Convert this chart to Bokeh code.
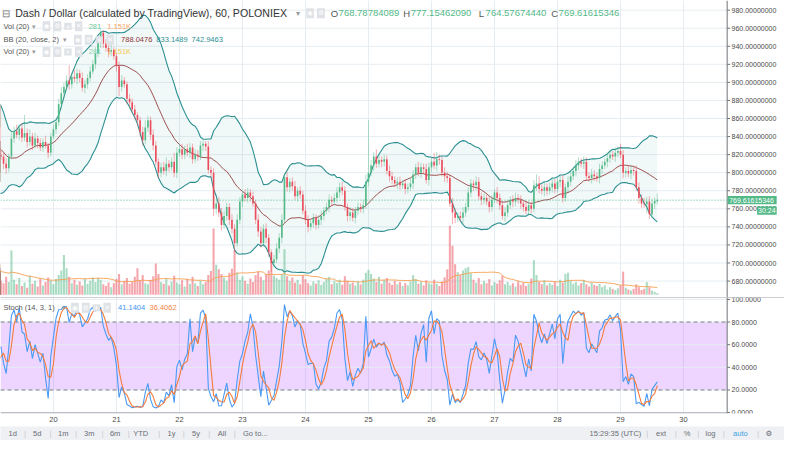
import numpy as np
import pandas as pd
from bokeh.plotting import figure
from bokeh.layouts import column
from bokeh.models import (Range1d, FixedTicker, BoxAnnotation, Span, Label, ColumnDataSource)
from bokeh.core.properties import value
from bokeh.embed import file_html
from bokeh.resources import INLINE

# ---------------- data (hourly candles, hours counted from 19th 00:00 UTC) ----------------
first_hour = -16
first_open = 850.0

warmup_closes = [860, 870, 875, 865, 850, 845, 835, 820, 800, 790,
                 795, 810, 805, 800, 815, 830, 835, 825, 810, 820]
visible_closes = [
    818, 810, 805, 818, 838, 846, 842, 849, 839, 844,
    834, 840, 830, 838, 833, 828, 834, 830, 822, 840,
    848, 856, 876, 888, 895, 902, 898, 906, 904, 910,
    905, 894, 898, 905, 912, 920, 932, 944, 955, 943,
    938, 934, 936, 929, 918, 895, 902, 898, 882, 878,
    870, 864, 858, 845, 836, 850, 858, 842, 830, 812,
    800, 806, 802, 810, 806, 812, 800, 822, 826, 820,
    826, 822, 828, 815, 820, 818, 830, 832, 829, 803,
    800, 760, 766, 756, 742, 752, 762, 748, 738, 722,
    748, 768, 776, 772, 778, 774, 766, 748, 735, 722,
    738, 728, 712, 700, 704, 716, 728, 748, 795, 784,
    790, 785, 774, 780, 776, 758, 748, 740, 744, 750,
    742, 748, 752, 758, 762, 770, 768, 772, 778, 784,
    780, 762, 752, 756, 750, 758, 762, 760, 764, 790,
    800, 808, 818, 810, 814, 812, 815, 802, 796, 792,
    788, 790, 786, 788, 782, 784, 788, 798, 806, 800,
    806, 804, 792, 806, 812, 808, 815, 814, 800, 796,
    794, 766, 756, 750, 752, 750, 756, 762, 778, 788,
    786, 790, 774, 770, 772, 768, 762, 770, 778, 772,
    764, 752, 756, 764, 770, 768, 772, 770, 766, 762,
    758, 764, 760, 786, 788, 782, 780, 784, 780, 784,
    788, 782, 790, 792, 772, 784, 790, 796, 802, 808,
    812, 810, 812, 796, 794, 798, 796, 794, 804, 808,
    812, 816, 820, 818, 822, 824, 820, 800, 802, 799,
    803, 802, 784, 772, 766, 765, 768, 754, 766, 768.78784089,
    769.61615346]

wick_up = [4, 5, 3, 4, 3, 6, 2, 3, 4, 5, 6, 3, 4, 5, 4, 3, 6, 4, 5, 4,
           5, 4, 6, 3, 8, 5, 7, 4, 6, 20,
           5, 8, 4, 6, 3, 5, 4, 7, 3, 4,
           5, 4, 6, 7, 5, 6, 17, 4, 8, 5,
           4, 6, 5, 4, 6, 5, 7, 6, 5, 3,
           5, 4, 6, 3, 4, 5, 6, 4, 3, 5,
           4, 5, 3, 4, 6, 8, 5, 4, 6, 5,
           4, 5, 6, 7, 4, 5, 10, 6, 5, 6,
           4, 6, 5, 4, 6, 5, 5, 4, 3, 6,
           4, 5, 6, 7, 5, 6, 5, 4, 6, 5,
           6, 5, 4, 6, 5, 4, 5, 4, 6, 5,
           5, 6, 4, 3, 5, 6, 5, 6, 5, 6,
           4, 5, 6, 4, 5, 4, 6, 5, 4, 5,
           4, 5, 6, 4, 5, 6, 4, 5, 6, 5,
           6, 5, 4, 6, 5, 4, 5, 4, 6, 8,
           58, 6, 5, 8, 6, 4, 5, 4, 6, 5,
           4, 5, 6, 4, 5, 4, 6, 5, 4, 6,
           5, 4, 6, 5, 4, 10, 8, 5, 4, 6,
           5, 4, 6, 5, 4, 5, 6, 5, 6, 5,
           4, 6, 5, 4, 5, 4, 6, 5, 4, 6,
           5, 4, 6, 5, 4, 5, 6, 4, 5, 4,
           6, 5, 4, 6, 10, 8, 5, 6, 4, 5,
           6, 5, 4, 6, 5, 4, 6, 5, 4, 6,
           5, 4, 6, 5, 4, 6, 5, 4, 6, 5,
           4, 6, 5, 4, 6, 5, 8, 5, 4, 6,
           5, 4, 6, 5, 4, 6, 5, 6, 5, 4,
           7.53845744]

wick_down = [3, 4, 5, 3, 4, 2, 5, 4, 6, 4, 3, 5, 4, 3, 2, 4, 3, 5, 4, 3,
             4, 6, 6, 4, 3, 5, 4, 6, 5, 4,
             6, 4, 5, 3, 6, 4, 5, 3, 6, 4,
             3, 5, 4, 6, 5, 4, 6, 5, 4, 6,
             5, 4, 6, 5, 4, 3, 5, 4, 6, 5,
             4, 6, 5, 4, 6, 10, 5, 4, 6, 5,
             4, 5, 6, 5, 6, 4, 5, 6, 5, 4,
             6, 5, 4, 6, 5, 4, 5, 6, 4, 5,
             5, 4, 6, 5, 4, 5, 4, 6, 5, 4,
             5, 8, 6, 5, 6, 4, 5, 6, 5, 10,
             4, 5, 6, 4, 5, 6, 4, 5, 6, 5,
             4, 6, 5, 10, 5, 4, 5, 6, 4, 5,
             6, 5, 4, 6, 5, 4, 5, 6, 4, 5,
             5, 4, 6, 5, 4, 6, 5, 4, 5, 6,
             5, 4, 6, 5, 4, 6, 5, 4, 5, 4,
             5, 4, 6, 5, 4, 6, 5, 4, 6, 5,
             4, 6, 5, 4, 6, 5, 4, 6, 5, 4,
             6, 5, 4, 6, 5, 4, 6, 5, 4, 6,
             5, 4, 13, 6, 5, 4, 6, 5, 4, 5,
             6, 5, 4, 6, 5, 4, 6, 5, 4, 6,
             5, 4, 6, 5, 4, 6, 5, 4, 6, 5,
             4, 6, 5, 4, 6, 5, 4, 6, 5, 4,
             6, 5, 4, 6, 5, 4, 6, 5, 4, 6,
             5, 4, 6, 5, 4, 6, 5, 4, 6, 5,
             4, 6, 5, 4, 6, 5, 4, 6, 5, 4,
             6, 5, 4, 6, 5, 4, 10, 5, 4, 6,
             4.20941649]

volumes_k = [4.2, 3.8, 5.1, 4.5, 3.6, 4.0, 3.2, 4.8, 5.5, 3.9,
             4.3, 3.5, 4.1, 3.8, 4.6, 3.3, 4.0, 3.7, 4.4, 3.9,
             2.4, 2.0, 3.1, 2.2, 7.7, 2.6, 1.8, 2.9, 1.5, 2.1,
             1.2, 3.3, 1.9, 2.4, 1.4, 2.8, 1.6, 2.2, 3.0, 2.5,
             1.8, 2.7, 3.4, 4.2, 6.9, 4.6, 3.1, 2.0, 2.6, 1.7,
             2.3, 1.6, 2.8, 1.9, 2.4, 3.0, 2.2, 2.9, 2.6, 1.8,
             1.5, 2.1, 1.3, 2.0, 2.7, 3.6, 1.8, 2.4, 2.9, 1.9,
             2.2, 3.1, 4.6, 2.5, 3.4, 2.0, 1.8, 2.6, 3.2, 5.4,
             3.6, 2.2, 1.9, 2.8, 1.6, 2.3, 3.3, 2.1, 1.8, 2.5,
             1.4, 2.7, 1.9, 3.1, 2.0, 1.5, 2.4, 1.8, 2.2, 3.4,
             4.1, 11.5, 5.2, 4.4, 3.6, 3.0, 2.4, 3.8, 4.5, 7.7,
             3.8, 2.6, 3.2, 2.4, 1.9, 2.8, 2.2, 3.4, 4.0, 3.1,
             2.5, 3.6, 4.2, 5.8, 3.3, 2.9, 2.6, 3.5, 7.9, 3.2,
             2.4, 3.0, 2.1, 2.6, 1.8, 3.4, 2.7, 2.0, 1.6, 2.3,
             1.9, 2.5, 1.7, 2.2, 2.8, 3.1, 1.8, 2.4, 2.0, 2.6,
             1.7, 3.2, 2.4, 1.9, 2.1, 1.6, 2.3, 1.8, 2.6, 3.8,
             4.3, 3.6, 2.8, 2.2, 3.1, 1.9, 2.6, 2.9, 2.1, 1.7,
             2.4, 1.8, 2.2, 1.5, 2.0, 1.6, 2.3, 3.4, 2.7, 1.9,
             2.2, 1.6, 2.5, 2.0, 1.8, 2.6, 1.9, 1.5, 2.3, 3.0,
             4.4, 12.0, 8.5, 5.3, 3.9, 3.4, 4.2, 4.6, 4.8, 3.7,
             2.6, 2.1, 2.9, 1.8, 2.4, 2.0, 2.7, 1.6, 2.2, 1.9,
             2.5, 3.3, 1.8, 2.2, 1.6, 2.0, 1.4, 2.3, 1.7, 2.1,
             1.5, 1.9, 2.8, 6.0, 3.4, 2.2, 1.8, 2.5, 1.6, 2.0,
             1.7, 2.3, 1.5, 2.6, 2.1, 3.6, 3.8, 2.4, 1.9, 2.2,
             1.6, 2.0, 2.5, 1.8, 1.4, 2.1, 1.7, 1.5, 1.9, 1.3,
             1.6, 0.9, 1.3, 1.0, 0.8, 1.1, 1.6, 4.0, 1.2, 0.9,
             0.7, 1.0, 1.8, 1.3, 0.8, 1.0, 2.2, 1.3, 0.7, 0.5,
             0.281]

day_labels = ["20", "21", "22", "23", "24", "25", "26", "27", "28", "29", "30"]
price_ticks = [680, 700, 720, 740, 760, 780, 800, 820, 840, 860, 880, 900, 920, 940, 960, 980]
stoch_ticks = [0, 20, 40, 60, 80, 100]
last_price = 769.61615346
countdown = "30:24"

# ---------------- derived series ----------------
closes = warmup_closes + visible_closes
n = len(closes)
for name, arr in (("wick_up", wick_up), ("wick_down", wick_down), ("volumes_k", volumes_k)):
    if len(arr) != n:
        raise SystemExit(f"{name} has {len(arr)} values, expected {n}")

t = np.arange(n, dtype=float) + first_hour
c = np.array(closes, dtype=float)
o = np.concatenate([[first_open], c[:-1]])
hi = np.maximum(o, c) + np.array(wick_up, dtype=float)
lo = np.minimum(o, c) - np.array(wick_down, dtype=float)
vol = np.array(volumes_k, dtype=float)

cs = pd.Series(c)
bb_mid = cs.rolling(20).mean()
bb_sd = cs.rolling(20).std(ddof=0)
bb_up = bb_mid + 2 * bb_sd
bb_lo = bb_mid - 2 * bb_sd
vol_ma = pd.Series(vol).rolling(20).mean()
hh = pd.Series(hi).rolling(14).max()
ll = pd.Series(lo).rolling(14).min()
k_line = 100 * (cs - ll) / (hh - ll)
d_line = k_line.rolling(3).mean()

UP, DN = "#53b987", "#eb4d5c"
col = np.where(c >= o, UP, DN)
body_top = np.maximum(o, c)
body_bot = np.minimum(o, c)
thin = (body_top - body_bot) < 0.9
body_top = np.where(thin, body_top + 0.45, body_top)
body_bot = np.where(thin, body_bot - 0.45, body_bot)

src = ColumnDataSource(dict(t=t, hi=hi, lo=lo, top=body_top, bot=body_bot, col=col, vol=vol,
                            volma=vol_ma, up=bb_up, lo_b=bb_lo, mid=bb_mid, k=k_line, d=d_line))

# ---------------- geometry ----------------
SX, SY = 0.98, 0.965
FW, FH1, FH2, XB, H3 = 784, 297, 116, 13, 14
PX_PER_HOUR = 2.679              # reference pixels per hour
X0 = 3.84                        # hour at the left edge
HPX = 1.0 / PX_PER_HOUR          # hours per reference pixel
x_range = Range1d(X0, X0 + 800 * HPX)
T_AX = X0 + 741.5 * HPX          # right price scale position
FONT = "Liberation Sans"
GRID = "#e6edf2"
AXC = "#6f7278"
TXT = "#4a4a4a"
day_ticks = [24 * (i + 1) for i in range(len(day_labels))]


def lab(fig, fh, y0, X, Y, text, color, size=7.5, style="normal"):
    fig.add_layout(Label(x=X * SX, y=fh - (Y - y0) * SY, x_units="screen", y_units="screen",
                         text=text, text_color=color, text_font=FONT, text_font_size=f"{size}px",
                         text_baseline="middle", text_align="left", text_font_style=style))


def icons(fig, fh, y0, Xs, Y, glyphs):
    for i, g in enumerate(glyphs):
        fig.add_layout(Label(x=(Xs + 11 * i) * SX, y=fh - (Y - y0) * SY, x_units="screen",
                             y_units="screen", text=g, text_color="white",
                             text_font="DejaVu Sans", text_font_size="6.5px",
                             text_baseline="middle", text_align="left",
                             background_fill_color="#dfe2e6", padding=1))


def price_scale(fig, ticks, fmt, yr):
    """right-hand scale drawn inside the frame: grid, axis line, ticks, labels"""
    fig.segment(x0=[X0] * len(ticks), y0=ticks, x1=[T_AX] * len(ticks), y1=ticks,
                line_color=GRID, line_width=1)
    fig.segment(x0=[T_AX] * len(ticks), y0=ticks, x1=[T_AX + 3 * HPX] * len(ticks), y1=ticks,
                line_color=AXC, line_width=1)
    fig.text(x=[T_AX + 4.5 * HPX] * len(ticks), y=ticks, text=[fmt % v for v in ticks],
             text_font=value(FONT), text_font_size="7px", text_color=TXT,
             text_baseline="middle", text_align="left")
    fig.segment(x0=[T_AX], y0=[yr[0]], x1=[T_AX], y1=[yr[1]], line_color=AXC, line_width=1)


# ---------------- main pane ----------------
Y1 = (661.8, 990.7)
p1 = figure(frame_width=FW, frame_height=FH1, x_range=x_range, y_range=Range1d(*Y1),
            x_axis_location=None, y_axis_location=None, toolbar_location=None,
            output_backend="svg", min_border=0, outline_line_color=None)
p1.extra_y_ranges = {"vol": Range1d(-0.5, 51.2)}
p1.xgrid.ticker = FixedTicker(ticks=day_ticks)
p1.xgrid.grid_line_color = GRID
p1.ygrid.visible = False
price_scale(p1, price_ticks, "%.8f", Y1)

p1.varea(x="t", y1="lo_b", y2="up", source=src, fill_color="#138484", fill_alpha=0.06)
p1.vbar(x="t", top="vol", bottom=0, width=0.78, source=src, fill_color="col", line_color=None,
        fill_alpha=0.5, y_range_name="vol")
p1.line(x="t", y="volma", source=src, line_color="#f7a050", line_width=1, line_alpha=0.9,
        y_range_name="vol")
p1.line(x="t", y="up", source=src, line_color="#2b8f91", line_width=1.1)
p1.line(x="t", y="lo_b", source=src, line_color="#2b8f91", line_width=1.1)
p1.line(x="t", y="mid", source=src, line_color="#8e3434", line_width=1, line_alpha=0.85)
p1.segment(x0="t", y0="lo", x1="t", y1="hi", source=src, line_color="col", line_alpha=0.45,
           line_width=1)
p1.vbar(x="t", top="top", bottom="bot", width=0.62, source=src, fill_color="col", line_color=None)
p1.segment(x0=[X0], y0=[last_price], x1=[T_AX], y1=[last_price], line_color=UP, line_dash="1 2",
           line_width=1)

# last price and countdown tags on the price scale
U = 1 / 0.9365   # price units per reference pixel
p1.quad(left=[T_AX + 0.5 * HPX], right=[T_AX + 50.5 * HPX], bottom=[last_price - 4.3 * U],
        top=[last_price + 4.3 * U], fill_color=UP, line_color=None)
p1.text(x=[T_AX + 2 * HPX], y=[last_price], text=["%.8f" % last_price], text_font=value(FONT),
        text_font_size="7px", text_color="white", text_baseline="middle", text_align="left")
p1.quad(left=[T_AX + 30.5 * HPX], right=[T_AX + 50.5 * HPX], bottom=[last_price - 15.2 * U],
        top=[last_price - 6.5 * U], fill_color=UP, line_color=None)
p1.text(x=[T_AX + 40.5 * HPX], y=[last_price - 10.85 * U], text=[countdown],
        text_font=value(FONT), text_font_size="7px", text_color="white",
        text_baseline="middle", text_align="center")

# legends of the main pane
lab(p1, FH1, 0, 2, 13.3, "⊟", "#777777", size=10)
lab(p1, FH1, 0, 15, 13.3, "Dash / Dollar (calculated by TradingView), 60, POLONIEX", "#333333",
    size=10.6)
lab(p1, FH1, 0, 302, 13.3, "▾", "#9a9a9a", size=8)
icons(p1, FH1, 0, 312, 13.3, ["◉", "⚙"])
for X, s, colr in ((337, "O", "#555555"), (345, "768.78784089", UP), (411, "H", "#555555"),
                   (418.5, "777.15462090", UP), (488, "L", "#555555"), (495, "764.57674440", UP),
                   (562, "C", "#555555"), (569.5, "769.61615346", UP)):
    lab(p1, FH1, 0, X, 13.3, s, colr, size=9.5)

lab(p1, FH1, 0, 3, 26.7, "Vol (20)", "#555555")
lab(p1, FH1, 0, 32, 26.7, "▾", "#9a9a9a", size=7)
icons(p1, FH1, 0, 43, 26.7, ["◉", "⚙", "+", "✕"])
lab(p1, FH1, 0, 90, 26.7, "281", "#6cc59a")
lab(p1, FH1, 0, 109, 26.7, "1.151K", "#f7a35c")

lab(p1, FH1, 0, 3, 40.7, "BB (20, close, 2)", "#555555")
lab(p1, FH1, 0, 64, 40.7, "▾", "#9a9a9a", size=7)
icons(p1, FH1, 0, 75, 40.7, ["◉", "⚙", "+", "✕"])
lab(p1, FH1, 0, 123, 40.7, "788.0476", "#8e3434")
lab(p1, FH1, 0, 159, 40.7, "833.1489", "#2b8f91")
lab(p1, FH1, 0, 195, 40.7, "742.9463", "#2b8f91")

lab(p1, FH1, 0, 3, 53.3, "Vol (20)", "#555555")
lab(p1, FH1, 0, 32, 53.3, "▾", "#9a9a9a", size=7)
icons(p1, FH1, 0, 43, 53.3, ["◉", "⚙", "+", "✕"])
lab(p1, FH1, 0, 90, 53.3, "281", "#8fd3b0")
lab(p1, FH1, 0, 109, 53.3, "1.151K", "#f5c850")

# ---------------- stochastic pane ----------------
Y2 = (-0.8, 101.7)
p2 = figure(frame_width=FW, frame_height=FH2, x_range=x_range, y_range=Range1d(*Y2),
            x_axis_location="below", y_axis_location=None, toolbar_location=None,
            output_backend="svg", min_border=0, min_border_bottom=XB, outline_line_color=None)
p2.xgrid.grid_line_color = GRID
p2.ygrid.visible = False
xa = p2.xaxis[0]
xa.ticker = FixedTicker(ticks=day_ticks)
xa.major_label_overrides = {tk: lb for tk, lb in zip(day_ticks, day_labels)}
xa.major_label_text_font = FONT
xa.major_label_text_font_size = "7.5px"
xa.major_label_text_color = TXT
xa.major_tick_out, xa.major_tick_in = 0, 0
xa.minor_tick_out, xa.minor_tick_in = 0, 0
xa.axis_line_color = None
xa.major_label_standoff = 3

p2.add_layout(BoxAnnotation(left=X0, right=T_AX, bottom=20, top=80, fill_color="#9915ff",
                            fill_alpha=0.18, line_color=None, level="underlay"))
price_scale(p2, stoch_ticks, "%.4f", Y2)
p2.segment(x0=[X0, X0], y0=[20, 80], x1=[T_AX, T_AX], y1=[20, 80], line_color="#7d7d85",
           line_dash="4 3", line_width=1)
p2.add_layout(Span(location=Y2[1], dimension="width", line_color="#9a9da3", line_width=1))
p2.segment(x0=[X0], y0=[Y2[0] + 0.5], x1=[T_AX], y1=[Y2[0] + 0.5], line_color="#9a9da3",
           line_width=1)
p2.line(x="t", y="k", source=src, line_color="#4a9af5", line_width=1.1)
p2.line(x="t", y="d", source=src, line_color="#f47c3c", line_width=1.1)

lab(p2, FH2, 308.5, 3, 319, "Stoch (14, 3, 1)", "#555555")
lab(p2, FH2, 308.5, 63, 319, "▾", "#9a9a9a", size=7)
icons(p2, FH2, 308.5, 72, 319, ["◉", "⚙", "+", "✕"])
lab(p2, FH2, 308.5, 120, 319, "41.1404", "#3d94f6")
lab(p2, FH2, 308.5, 152, 319, "36.4062", "#f5843f")

# ---------------- bottom toolbar ----------------
p3 = figure(width=FW, height=H3, x_range=Range1d(0, 800), y_range=Range1d(0, 1),
            x_axis_location=None, y_axis_location=None, toolbar_location=None,
            output_backend="svg", min_border=0, outline_line_color=None,
            background_fill_color="#eef0f3", border_fill_color="#eef0f3")
p3.grid.visible = False
bar_items = [(12.5, "1d"), (37.5, "5d"), (64, "1m"), (90.5, "3m"), (117, "6m"), (143, "YTD"),
             (174.5, "1y"), (199.5, "5y"), (226, "All"), (260, "Go to..."),
             (627.5, "15:29:35 (UTC)"), (674, "ext"), (700.5, "%"), (724.5, "log"),
             (755, "auto"), (784, "⚙")]
for X, s in bar_items:
    p3.add_layout(Label(x=X, y=0.5, text=s, text_align="center", text_baseline="middle",
                        text_font=FONT if s != "⚙" else "DejaVu Sans", text_font_size="7.5px",
                        text_color="#3ea0e2" if s == "auto" else "#6a6d75"))
for X in (25, 51, 77, 104, 131, 162, 187, 213, 239, 660, 689, 712, 738, 773):
    p3.add_layout(Label(x=X, y=0.5, text="|", text_align="center", text_baseline="middle",
                        text_font=FONT, text_font_size="8px", text_color="#c5c8cd"))

layout = column(p1, p2, p3, spacing=0)
open("out.html", "w").write(file_html(layout, INLINE))
